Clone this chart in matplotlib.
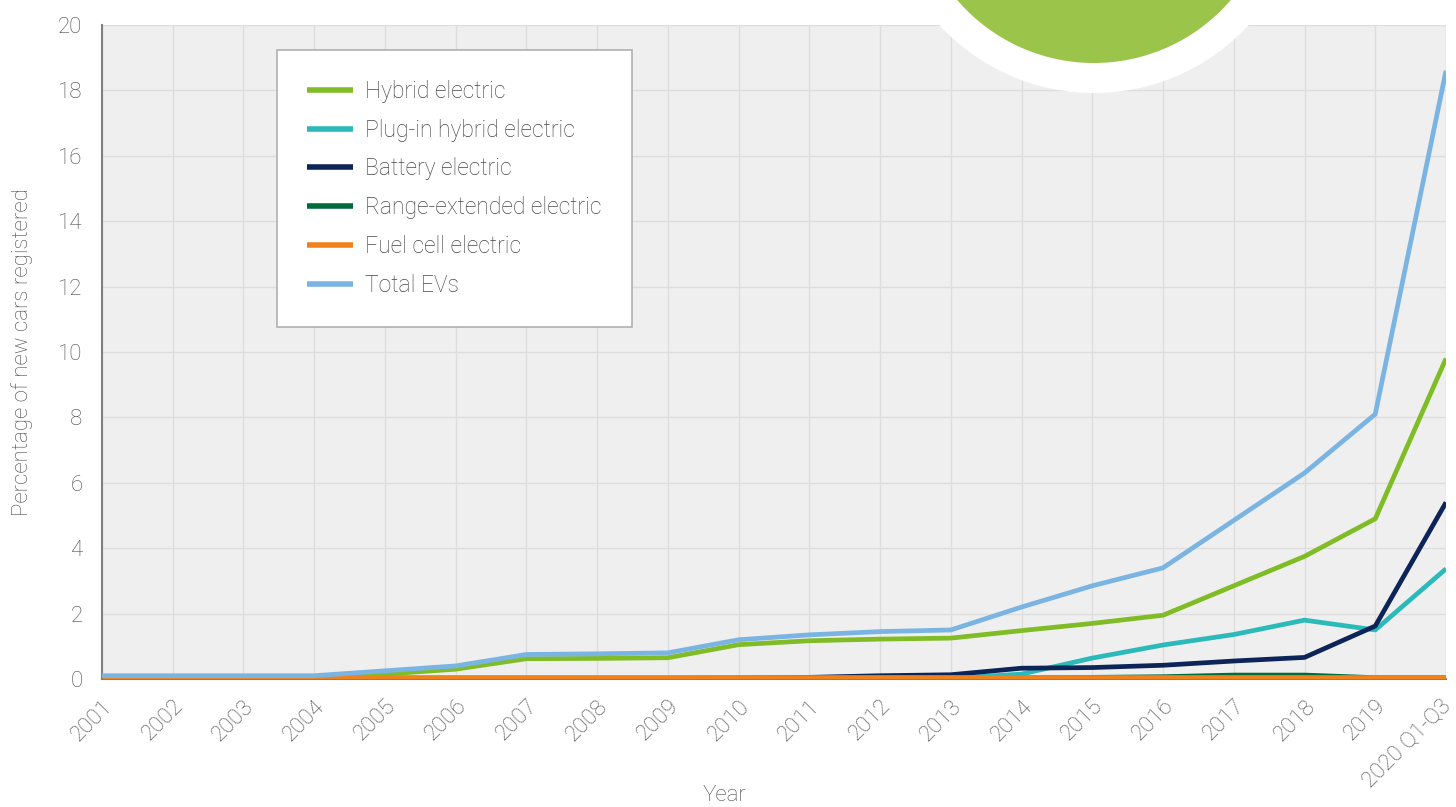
import matplotlib
matplotlib.use("Agg")
import matplotlib.pyplot as plt
from matplotlib.patches import Circle
from matplotlib.transforms import ScaledTranslation

years = ["2001", "2002", "2003", "2004", "2005", "2006", "2007", "2008", "2009", "2010",
         "2011", "2012", "2013", "2014", "2015", "2016", "2017", "2018", "2019", "2020 Q1-Q3"]

hybrid = [0.05, 0.05, 0.07, 0.05, 0.15, 0.3, 0.62, 0.63, 0.65, 1.05,
          1.17, 1.22, 1.25, 1.48, 1.7, 1.95, 2.85, 3.75, 4.9, 9.8]
plugin = [0, 0, 0, 0, 0, 0, 0, 0, 0, 0,
          0, 0.01, 0.02, 0.15, 0.64, 1.04, 1.36, 1.8, 1.5, 3.37]
battery = [0, 0, 0, 0, 0, 0.01, 0.01, 0.01, 0.02, 0.03,
           0.05, 0.1, 0.13, 0.33, 0.35, 0.42, 0.55, 0.66, 1.62, 5.4]
range_ext = [0, 0, 0, 0, 0, 0, 0, 0, 0, 0,
             0, 0.01, 0.02, 0.03, 0.05, 0.07, 0.12, 0.12, 0.04, 0.04]
fuel_cell = [0.05] * 20
total = [0.1, 0.1, 0.1, 0.1, 0.25, 0.4, 0.75, 0.77, 0.8, 1.2,
         1.35, 1.45, 1.5, 2.2, 2.85, 3.4, 4.85, 6.3, 8.1, 18.6]

series = [
    ("Hybrid electric", hybrid, "#80bc26"),
    ("Plug-in hybrid electric", plugin, "#2cb9b9"),
    ("Battery electric", battery, "#0d2459"),
    ("Range-extended electric", range_ext, "#006b3b"),
    ("Fuel cell electric", fuel_cell, "#f0821c"),
    ("Total EVs", total, "#7ab4e2"),
]

plt.rcParams['font.family'] = ['Roboto', 'DejaVu Sans']
plt.rcParams['font.weight'] = 'light'
plt.rcParams['axes.labelweight'] = 'light'

FS = 16
TXT = "#4a4a4a"

fig = plt.figure(figsize=(14.56, 8.07), dpi=100)
ax = fig.add_axes([102/1456, 1 - 679/807, 1344/1456, 654/807])
ax.set_facecolor("#efefef")

x = list(range(len(years)))
for label, vals, col in series:
    ax.plot(x, vals, color=col, lw=3.4, label=label, solid_capstyle='butt', zorder=3)

ax.set_xlim(0, len(years) - 1)
ax.set_ylim(0, 20)
ax.set_yticks(range(0, 21, 2))
ax.set_xticks(x)
ax.set_xticklabels(years, rotation=45, ha='right', rotation_mode='anchor')
ax.grid(True, color="#dddddd", lw=1, zorder=0)
ax.set_axisbelow(True)
ax.tick_params(length=0, labelsize=FS, labelcolor=TXT)
ax.tick_params(axis='y', pad=14)
ax.tick_params(axis='x', pad=12)
lbls = ax.get_xticklabels()
lbls[-1].set_transform(lbls[-1].get_transform() + ScaledTranslation(-6/100, 0, fig.dpi_scale_trans))
for s in ["top", "right"]:
    ax.spines[s].set_visible(False)
for s in ["left", "bottom"]:
    ax.spines[s].set_color("#808080")
    ax.spines[s].set_linewidth(1.5)

ax.set_ylabel("Percentage of new cars registered", fontsize=FS, color=TXT)
ax.yaxis.set_label_coords(-0.051, 0.5)
ax.set_xlabel("Year", fontsize=FS, color=TXT)
ax.xaxis.set_label_coords(0.463, -0.162)

leg = ax.legend(loc='upper left', bbox_to_anchor=((277-102)/1344, (679-50)/654),
                frameon=True, fancybox=False, edgecolor="#b0b0b0", facecolor="white",
                fontsize=16.5, handlelength=2.0, handletextpad=0.55, labelspacing=0.69,
                borderpad=1.3, borderaxespad=0, framealpha=1)
leg.get_frame().set_linewidth(1.2)
for t in leg.get_texts():
    t.set_color("#474747")
for h in leg.get_lines():
    h.set_linewidth(4)

# decorative circle at top
fig.add_artist(Circle((10.94, 9.24), 2.10, transform=fig.dpi_scale_trans,
                      facecolor="white", edgecolor="none", zorder=10))
fig.add_artist(Circle((10.94, 9.24), 1.80, transform=fig.dpi_scale_trans,
                      facecolor="#9ac54a", edgecolor="none", zorder=11))

fig.savefig("out.png", dpi=100)
